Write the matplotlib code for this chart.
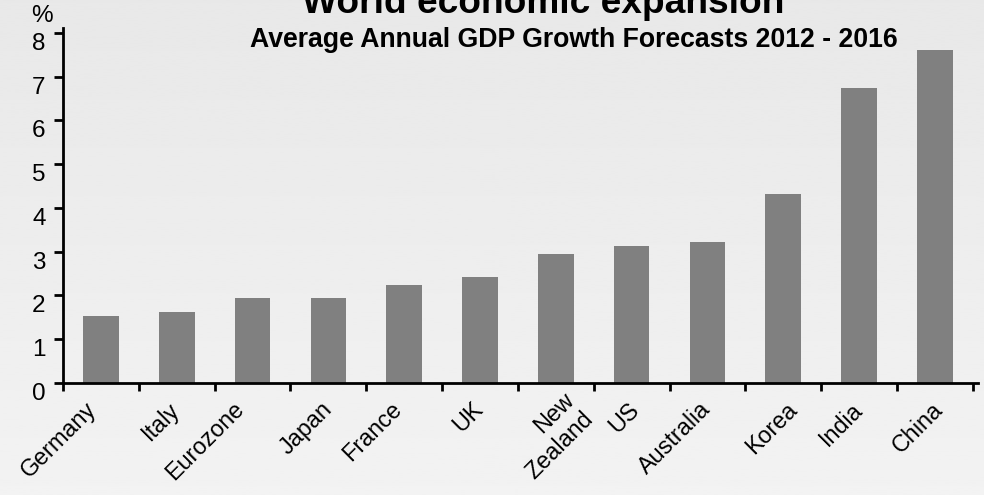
import numpy as np
import matplotlib
matplotlib.use('Agg')
import matplotlib.pyplot as plt
import matplotlib.transforms as mtransforms

plt.rcParams['font.family'] = ['Liberation Sans', 'DejaVu Sans']

########################  DATA  ########################
countries = ['Germany', 'Italy', 'Eurozone', 'Japan', 'France', 'UK',
             'New\nZealand', 'US', 'Australia', 'Korea', 'India', 'China']
growth = [1.53, 1.62, 1.94, 1.94, 2.24, 2.42, 2.95, 3.13, 3.22, 4.32, 6.74, 7.61]
yticks = [0, 1, 2, 3, 4, 5, 6, 7, 8]

title = 'World economic expansion'
subtitle = 'Average Annual GDP Growth Forecasts 2012 - 2016'

########################  FIGURE  ######################
fig = plt.figure(figsize=(9.84, 4.95), dpi=100)

# soft vertical gradient behind everything
bg = fig.add_axes([0, 0, 1, 1], zorder=-10)
grad = np.linspace(0.91, 0.95, 256).reshape(-1, 1)
bg.imshow(grad, aspect='auto', cmap='gray', vmin=0, vmax=1,
          extent=[0, 1, 0, 1], origin='upper')
bg.axis('off')

ax = fig.add_axes([0.064, 0.2263, 0.930, 0.7177])
ax.set_facecolor('none')

x = np.arange(len(countries))
ax.bar(x, growth, width=0.47, color='#808080', zorder=2)

ax.set_xlim(-0.5, 11.57)
ax.set_ylim(0, 8.12)
ax.set_yticks(yticks)
ax.set_yticklabels([str(v) for v in yticks], fontsize=17.5)
for lbl in ax.get_yticklabels():
    lbl.set_va('top')

# boundary ticks only; category names drawn as rotated texts below
ax.set_xticks(np.arange(len(countries) + 1) - 0.5)
ax.set_xticklabels([])
ax.tick_params(axis='x', length=6, width=2, direction='out')
ax.tick_params(axis='y', length=6.5, width=2, direction='out', pad=6)

# small per-label nudges (pixels) to follow the original's uneven placement
nudge = {'Germany': -8, 'Eurozone': -12, 'France': -6, 'New\nZealand': 24,
         'US': 4, 'Korea': 10, 'China': 5}
base = mtransforms.blended_transform_factory(ax.transData, ax.transAxes)
for i, name in enumerate(countries):
    dx = nudge.get(name, 0)
    off = mtransforms.ScaledTranslation(dx / 100, -23 / 100, fig.dpi_scale_trans)
    ax.text(i, 0, name, transform=base + off, fontsize=16.8, rotation=45,
            ha='right', va='center', rotation_mode='anchor', clip_on=False)

for s in ['top', 'right']:
    ax.spines[s].set_visible(False)
for s in ['left', 'bottom']:
    ax.spines[s].set_linewidth(2)

fig.text(42 / 984, 1 - 16 / 495, '%', fontsize=17.5, ha='center', va='center')
fig.text(543 / 984, 1 - 13 / 495, title, fontsize=26.7, fontweight='bold',
         ha='center', va='baseline')
fig.text(574 / 984, 1 - 47 / 495, subtitle, fontsize=19.2, fontweight='bold',
         ha='center', va='baseline')

fig.savefig('out.png', dpi=100)
